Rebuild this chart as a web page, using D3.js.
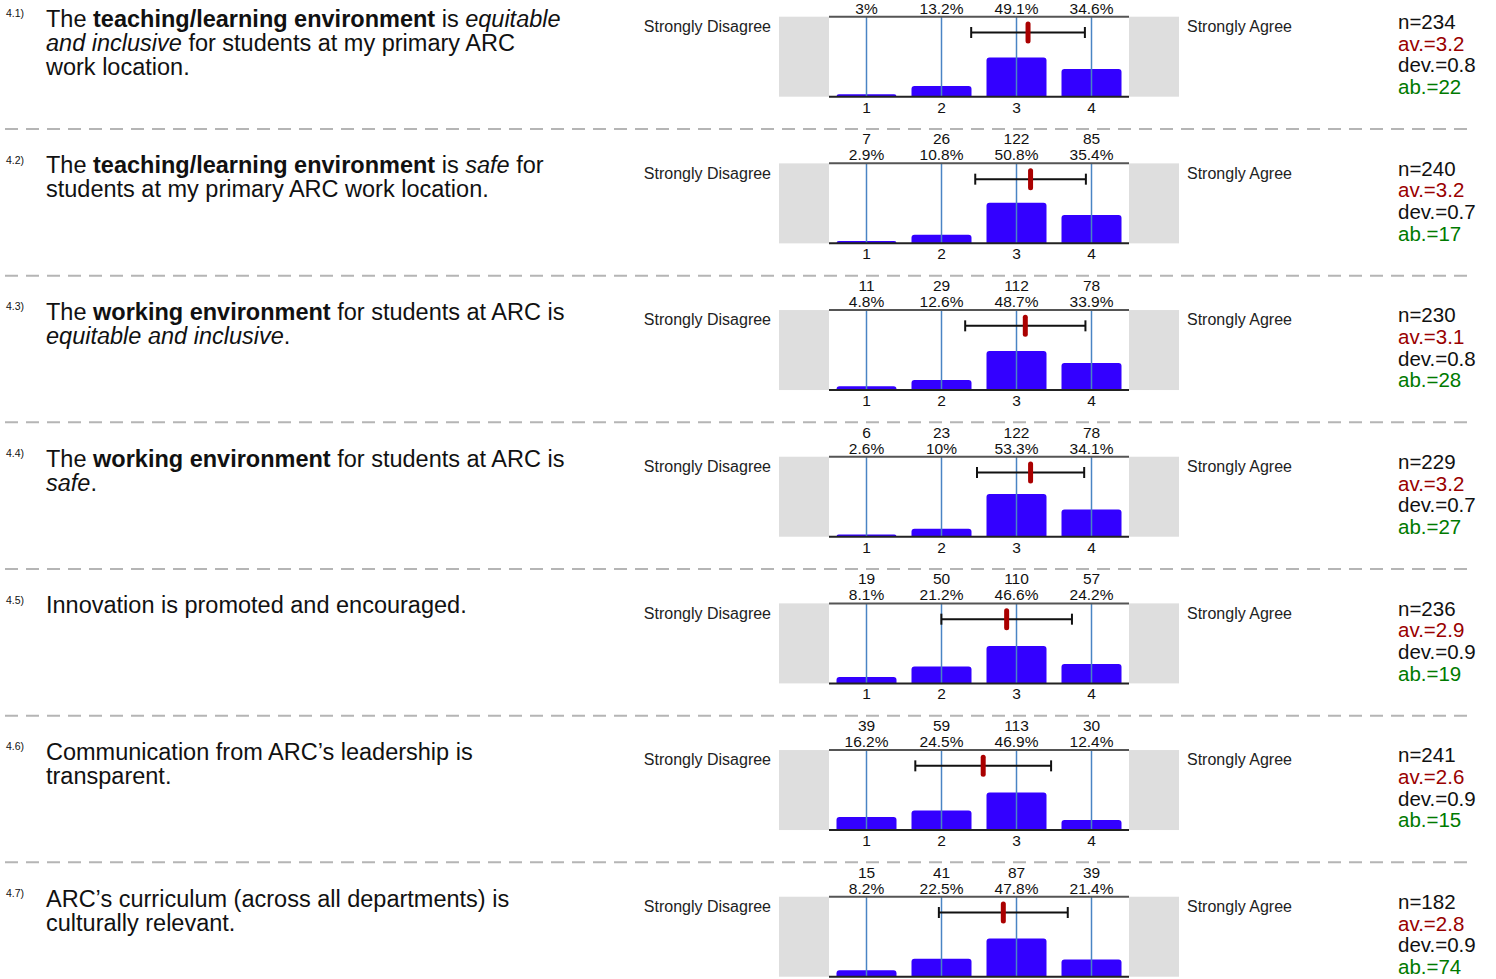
<!DOCTYPE html>
<html>
<head>
<meta charset="utf-8">
<script src="https://cdn.jsdelivr.net/npm/d3@7"></script>
<style>
  body { margin: 0; background: #fff; }
  text { font-family: "Liberation Sans", Arial, sans-serif; }
</style>
</head>
<body>
<svg width="1496" height="979"></svg>
<script>
// survey items, answer counts for 1..4, n and abstentions
const itemIds = ["4.1)", "4.2)", "4.3)", "4.4)", "4.5)", "4.6)", "4.7)"];
const categories = [1, 2, 3, 4];
const counts = [
  [7, 31, 115, 81],
  [7, 26, 122, 85],
  [11, 29, 112, 78],
  [6, 23, 122, 78],
  [19, 50, 110, 57],
  [39, 59, 113, 30],
  [15, 41, 87, 39]
];
const nValues = [234, 240, 230, 229, 236, 241, 182];
const abstentions = [22, 17, 28, 27, 19, 15, 74];
const leftLabel = "Strongly Disagree";
const rightLabel = "Strongly Agree";

// question text: lines of [text, style] pieces (n = normal, b = bold, i = italic)
const questions = [
  [[["The ", "n"], ["teaching/learning environment", "b"], [" is ", "n"], ["equitable", "i"]],
   [["and inclusive", "i"], [" for students at my primary ARC", "n"]],
   [["work location.", "n"]]],
  [[["The ", "n"], ["teaching/learning environment", "b"], [" is ", "n"], ["safe", "i"], [" for", "n"]],
   [["students at my primary ARC work location.", "n"]]],
  [[["The ", "n"], ["working environment", "b"], [" for students at ARC is", "n"]],
   [["equitable and inclusive", "i"], [".", "n"]]],
  [[["The ", "n"], ["working environment", "b"], [" for students at ARC is", "n"]],
   [["safe", "i"], [".", "n"]]],
  [[["Innovation is promoted and encouraged.", "n"]]],
  [[["Communication from ARC\u2019s leadership is", "n"]],
   [["transparent.", "n"]]],
  [[["ARC\u2019s curriculum (across all departments) is", "n"]],
   [["culturally relevant.", "n"]]]
];

const svg = d3.select("svg");
const H = 979;
const rowH = 146.67;
const plotTop = 16.7, plotBottom = 96.7;

const x = d3.scaleBand().domain(categories).range([829, 1129]).paddingInner(0.2).paddingOuter(0.1);
const xv = d3.scaleLinear().domain([1, 4]).range([x(1) + x.bandwidth() / 2, x(4) + x.bandwidth() / 2]);
const y = d3.scaleLinear().domain([0, 100]).range([plotBottom, plotTop]);
const fmtPct = v => (Math.round(v * 10) / 10) + "%";
const fmt1 = d3.format(".1f");

// bar with rounded top corners
const barPath = (x0, w, yTop, yBot, r) => {
  r = Math.min(r, (yBot - yTop), w / 2);
  const p = d3.path();
  p.moveTo(x0, yBot);
  p.lineTo(x0, yTop + r);
  p.arcTo(x0, yTop, x0 + r, yTop, r);
  p.lineTo(x0 + w - r, yTop);
  p.arcTo(x0 + w, yTop, x0 + w, yTop + r, r);
  p.lineTo(x0 + w, yBot);
  p.closePath();
  return p.toString();
};

questions.forEach((q, i) => {
  const off = i * rowH;
  const g = svg.append("g").attr("transform", `translate(0,${off})`);
  const c = counts[i];
  const total = d3.sum(c);
  const pct = c.map(v => v / total * 100);
  const mean = d3.sum(c, (v, k) => v * categories[k]) / total;
  const sd = Math.sqrt(d3.sum(c, (v, k) => v * (categories[k] - mean) ** 2) / total);

  // item number and question
  g.append("text").attr("x", 6).attr("y", 17).attr("font-size", 10.5).attr("fill", "#111").text(itemIds[i]);
  const qt = g.append("text").attr("x", 46).attr("y", 26.5).attr("font-size", 23.5).attr("fill", "#111");
  q.forEach((line, li) => {
    line.forEach((seg, si) => {
      const t = qt.append("tspan").text(seg[0])
        .attr("font-weight", seg[1] === "b" ? "bold" : null)
        .attr("font-style", seg[1] === "i" ? "italic" : null);
      if (si === 0) t.attr("x", 46).attr("dy", li === 0 ? 0 : 24);
    });
  });

  // side labels
  g.append("text").attr("x", 771).attr("y", 32).attr("text-anchor", "end").attr("font-size", 16).attr("fill", "#222").text(leftLabel);
  g.append("text").attr("x", 1187).attr("y", 32).attr("font-size", 16).attr("fill", "#222").text(rightLabel);

  // grey boxes either side
  g.append("rect").attr("x", 779).attr("y", plotTop).attr("width", 50).attr("height", plotBottom - plotTop).attr("fill", "#dedede");
  g.append("rect").attr("x", 1129).attr("y", plotTop).attr("width", 50).attr("height", plotBottom - plotTop).attr("fill", "#dedede");

  // bars
  g.selectAll("path.bar").data(categories).enter().append("path").attr("class", "bar")
    .attr("d", (d, k) => barPath(x(d), x.bandwidth(), y(pct[k]), plotBottom, 3))
    .attr("fill", "#3300ff");

  // category lines
  g.selectAll("line.cat").data(categories).enter().append("line").attr("class", "cat")
    .attr("x1", d => x(d) + x.bandwidth() / 2).attr("x2", d => x(d) + x.bandwidth() / 2)
    .attr("y1", plotTop).attr("y2", plotBottom)
    .attr("stroke", "#4a84c4").attr("stroke-width", 1.5);

  // frame lines
  g.append("line").attr("x1", 829).attr("x2", 1129).attr("y1", plotTop).attr("y2", plotTop).attr("stroke", "#555").attr("stroke-width", 2);
  g.append("line").attr("x1", 829).attr("x2", 1129).attr("y1", plotBottom).attr("y2", plotBottom).attr("stroke", "#222").attr("stroke-width", 2);

  // counts (the top row's counts fall outside the picture) and percentages above
  if (off + plotTop - 19 > 12) {
    g.selectAll("text.cnt").data(categories).enter().append("text").attr("class", "cnt")
      .attr("x", d => x(d) + x.bandwidth() / 2).attr("y", plotTop - 19).attr("text-anchor", "middle")
      .attr("font-size", 15.5).attr("fill", "#111").text((d, k) => c[k]);
  }
  g.selectAll("text.pct").data(categories).enter().append("text").attr("class", "pct")
    .attr("x", d => x(d) + x.bandwidth() / 2).attr("y", plotTop - 3).attr("text-anchor", "middle")
    .attr("font-size", 15.5).attr("fill", "#111").text((d, k) => fmtPct(pct[k]));

  // tick labels below (the last row's fall outside the picture)
  if (off + plotBottom + 16 < H) {
    g.selectAll("text.tick").data(categories).enter().append("text").attr("class", "tick")
      .attr("x", d => x(d) + x.bandwidth() / 2).attr("y", plotBottom + 16).attr("text-anchor", "middle")
      .attr("font-size", 15.5).attr("fill", "#111").text(d => d);
  }

  // mean +/- deviation
  const ey = plotTop + 15.8;
  g.append("line").attr("x1", xv(mean - sd)).attr("x2", xv(mean + sd)).attr("y1", ey).attr("y2", ey).attr("stroke", "#111").attr("stroke-width", 2);
  [mean - sd, mean + sd].forEach(v => {
    g.append("line").attr("x1", xv(v)).attr("x2", xv(v)).attr("y1", ey - 5.5).attr("y2", ey + 5.5).attr("stroke", "#111").attr("stroke-width", 2);
  });
  g.append("line").attr("x1", xv(mean)).attr("x2", xv(mean)).attr("y1", ey - 8.5).attr("y2", ey + 8.5)
    .attr("stroke", "#aa0000").attr("stroke-width", 5).attr("stroke-linecap", "round");

  // stats
  const stats = [
    ["n=" + nValues[i], "#111"],
    ["av.=" + fmt1(mean), "#990000"],
    ["dev.=" + fmt1(sd), "#111"],
    ["ab.=" + abstentions[i], "#007a00"]
  ];
  g.selectAll("text.stat").data(stats).enter().append("text").attr("class", "stat")
    .attr("x", 1398).attr("y", (d, k) => 29 + k * 21.7).attr("font-size", 20.5).attr("fill", d => d[1]).text(d => d[0]);

  // dashed separator
  if (i < questions.length - 1) {
    g.append("line").attr("x1", 5).attr("x2", 1471).attr("y1", 129).attr("y2", 129)
      .attr("stroke", "#b5b5b5").attr("stroke-width", 2).attr("stroke-dasharray", "13,8");
  }
});
</script>
</body>
</html>
